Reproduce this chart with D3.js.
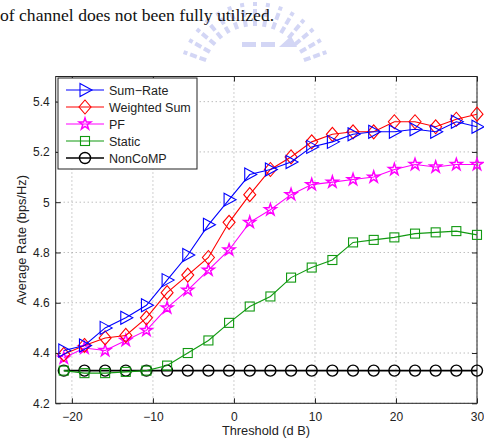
<!DOCTYPE html>
<html>
<head>
<meta charset="utf-8">
<script src="https://cdn.jsdelivr.net/npm/d3@7"></script>
<style>
  body { margin: 0; background: #fff; }
  svg { display: block; }
  .tick text { font-family: "Liberation Sans", Arial, sans-serif; font-size: 12px; fill: #222; }
</style>
</head>
<body>
<div id="chart"></div>
<script>
// threshold values (dB)
var thresholds = [-21, -18.45, -15.9, -13.35, -10.8, -8.25, -5.7, -3.15, -0.6, 1.95, 4.5,
                  7.05, 9.6, 12.15, 14.7, 17.25, 19.8, 22.35, 24.9, 27.45, 30];

var sumRate  = [4.41, 4.43, 4.50, 4.54, 4.59, 4.69, 4.79, 4.91, 5.01, 5.11, 5.13,
                5.16, 5.22, 5.24, 5.27, 5.28, 5.28, 5.29, 5.28, 5.32, 5.30];
var weighted = [4.395, 4.43, 4.46, 4.47, 4.54, 4.64, 4.71, 4.78, 4.92, 5.03, 5.13,
                5.18, 5.24, 5.27, 5.28, 5.28, 5.32, 5.32, 5.30, 5.33, 5.35];
var pf       = [4.38, 4.42, 4.41, 4.45, 4.49, 4.58, 4.65, 4.73, 4.81, 4.92, 4.97,
                5.03, 5.07, 5.08, 5.09, 5.10, 5.13, 5.15, 5.14, 5.15, 5.15];
var staticS  = [4.33, 4.32, 4.32, 4.325, 4.33, 4.35, 4.40, 4.45, 4.52, 4.585, 4.625,
                4.70, 4.74, 4.77, 4.84, 4.85, 4.86, 4.875, 4.88, 4.885, 4.87];
var nonComp  = [4.33, 4.33, 4.33, 4.33, 4.33, 4.33, 4.33, 4.33, 4.33, 4.33, 4.33,
                4.33, 4.33, 4.33, 4.33, 4.33, 4.33, 4.33, 4.33, 4.33, 4.33];

var xTicks = [-20, -10, 0, 10, 20, 30];
var yTicks = [4.2, 4.4, 4.6, 4.8, 5, 5.2, 5.4];

var series = [
  {name: "Sum\u2212Rate",    values: sumRate,  color: "#0000ff", marker: "tri"},
  {name: "Weighted Sum", values: weighted, color: "#ff0000", marker: "diamond"},
  {name: "PF",           values: pf,       color: "#ff00ff", marker: "star"},
  {name: "Static",       values: staticS,  color: "#119911", marker: "square"},
  {name: "NonCoMP",      values: nonComp,  color: "#000000", marker: "circle"}
];

var width = 484, height = 445;
var margin = {top: 76.5, right: 7, bottom: 41.7, left: 55.7};
var innerW = width - margin.left - margin.right,
    innerH = height - margin.top - margin.bottom;

var svg = d3.select("#chart").append("svg")
    .attr("width", width)
    .attr("height", height);

// faint watermark (approximate)
var wmColor = "#d3d6f5";
var wm = svg.append("g").style("fill", wmColor).style("stroke", "none");
d3.range(0, 15).forEach(function(i) {
  var a = (-160 + i * 10) * Math.PI / 180;
  var cx = 255, cy = 78, r1 = 52, r2 = 76;
  wm.append("line")
    .attr("x1", cx + r1 * Math.cos(a)).attr("y1", cy + r1 * Math.sin(a))
    .attr("x2", cx + r2 * Math.cos(a)).attr("y2", cy + r2 * Math.sin(a))
    .style("stroke", wmColor).style("stroke-width", 4)
    .style("stroke-dasharray", "7,3");
});
wm.append("rect").attr("x", 242).attr("y", 42).attr("width", 14).attr("height", 5);
wm.append("rect").attr("x", 261).attr("y", 42).attr("width", 14).attr("height", 5);
wm.append("path").attr("d", "M279,47 L291,36 L297,47 Z");

// page text above the figure
svg.append("text")
    .attr("x", 0).attr("y", 21)
    .style("font-family", "'Liberation Serif', 'Times New Roman', serif")
    .style("font-size", "17.6px")
    .style("fill", "#111")
    .text("of channel does not been fully utilized.");

var g = svg.append("g").attr("transform", "translate(" + margin.left + "," + margin.top + ")");

var x = d3.scaleLinear().domain([-22, 30]).range([0, innerW]);
var y = d3.scaleLinear().domain([4.2, 5.5]).range([innerH, 0]);

var fmt = function(d) { return String(d).replace("-", "\u2212"); };

// grid
g.append("g").selectAll("line.gx").data(xTicks).enter().append("line")
    .attr("x1", function(d) { return x(d); }).attr("x2", function(d) { return x(d); })
    .attr("y1", 0).attr("y2", innerH)
    .style("stroke", "#888").style("stroke-width", 0.8).style("stroke-dasharray", "1,3");
g.append("g").selectAll("line.gy").data(yTicks).enter().append("line")
    .attr("x1", 0).attr("x2", innerW)
    .attr("y1", function(d) { return y(d); }).attr("y2", function(d) { return y(d); })
    .style("stroke", "#888").style("stroke-width", 0.8).style("stroke-dasharray", "1,3");

// axes (MATLAB style: ticks pointing inward on all sides)
g.append("g").attr("transform", "translate(0," + innerH + ")")
    .call(d3.axisBottom(x).tickValues(xTicks).tickSize(-5).tickPadding(9).tickFormat(fmt));
g.append("g")
    .call(d3.axisLeft(y).tickValues(yTicks).tickSize(-5).tickPadding(6).tickFormat(fmt));
g.append("g")
    .call(d3.axisTop(x).tickValues(xTicks).tickSize(-5).tickFormat(""));
g.append("g").attr("transform", "translate(" + innerW + ",0)")
    .call(d3.axisRight(y).tickValues(yTicks).tickSize(-5).tickFormat(""));
g.selectAll(".domain").remove();
g.selectAll(".tick line").style("stroke", "#222");

g.append("rect")
    .attr("x", 0).attr("y", 0).attr("width", innerW).attr("height", innerH)
    .style("fill", "none").style("stroke", "#222").style("stroke-width", 1);

// axis labels
svg.append("text")
    .attr("x", 266).attr("y", 435)
    .attr("text-anchor", "middle")
    .style("font-family", "'Liberation Sans', Arial, sans-serif")
    .style("font-size", "12.8px").style("fill", "#222")
    .text("Threshold (d B)");
svg.append("text")
    .attr("transform", "translate(26,240) rotate(-90)")
    .attr("text-anchor", "middle")
    .style("font-family", "'Liberation Sans', Arial, sans-serif")
    .style("font-size", "12.8px").style("fill", "#222")
    .text("Average Rate (bps/Hz)");

// marker drawing
function drawMarker(sel, type, color) {
  sel.style("fill", "none").style("stroke", color).style("stroke-width", 1.1);
  if (type === "tri") {
    sel.append("path").attr("d", "M-5,-6.5 L7,0 L-5,6.5 Z");
  } else if (type === "diamond") {
    sel.append("path").attr("d", "M0,-7 L6,0 L0,7 L-6,0 Z");
  } else if (type === "star") {
    sel.append("path").attr("d", d3.symbol().type(d3.symbolStar).size(42)())
      .style("stroke-width", 1.5);
  } else if (type === "square") {
    sel.append("rect").attr("x", -4.5).attr("y", -4.5).attr("width", 9).attr("height", 9);
  } else if (type === "circle") {
    sel.append("circle").attr("r", 5.5).style("stroke-width", 1.4);
  }
}

var line = d3.line()
    .x(function(d) { return x(d.x); })
    .y(function(d) { return y(d.y); });

series.slice().reverse().forEach(function(s) {
  var pts = thresholds.map(function(t, i) { return {x: t, y: s.values[i]}; });
  g.append("path").datum(pts)
    .attr("d", line)
    .style("fill", "none").style("stroke", s.color)
    .style("stroke-width", s.marker === "circle" ? 1.8 : 1.1);
  g.selectAll(null).data(pts).enter().append("g")
    .attr("transform", function(d) { return "translate(" + x(d.x) + "," + y(d.y) + ")"; })
    .each(function() { drawMarker(d3.select(this), s.marker, s.color); });
});

// legend
var leg = svg.append("g").attr("transform", "translate(58,78)");
leg.append("rect").attr("width", 139).attr("height", 91)
    .style("fill", "#fff").style("stroke", "#222").style("stroke-width", 1);
series.forEach(function(s, i) {
  var yy = 12 + i * 17;
  leg.append("line").attr("x1", 8).attr("x2", 46).attr("y1", yy).attr("y2", yy)
    .style("stroke", s.color).style("stroke-width", s.marker === "circle" ? 1.6 : 1.1);
  var m = leg.append("g").attr("transform", "translate(27," + yy + ")");
  drawMarker(m, s.marker, s.color);
  leg.append("text").attr("x", 51).attr("y", yy + 4.5)
    .style("font-family", "'Liberation Sans', Arial, sans-serif")
    .style("font-size", "12.5px").style("fill", "#222")
    .text(s.name);
});
</script>
</body>
</html>
